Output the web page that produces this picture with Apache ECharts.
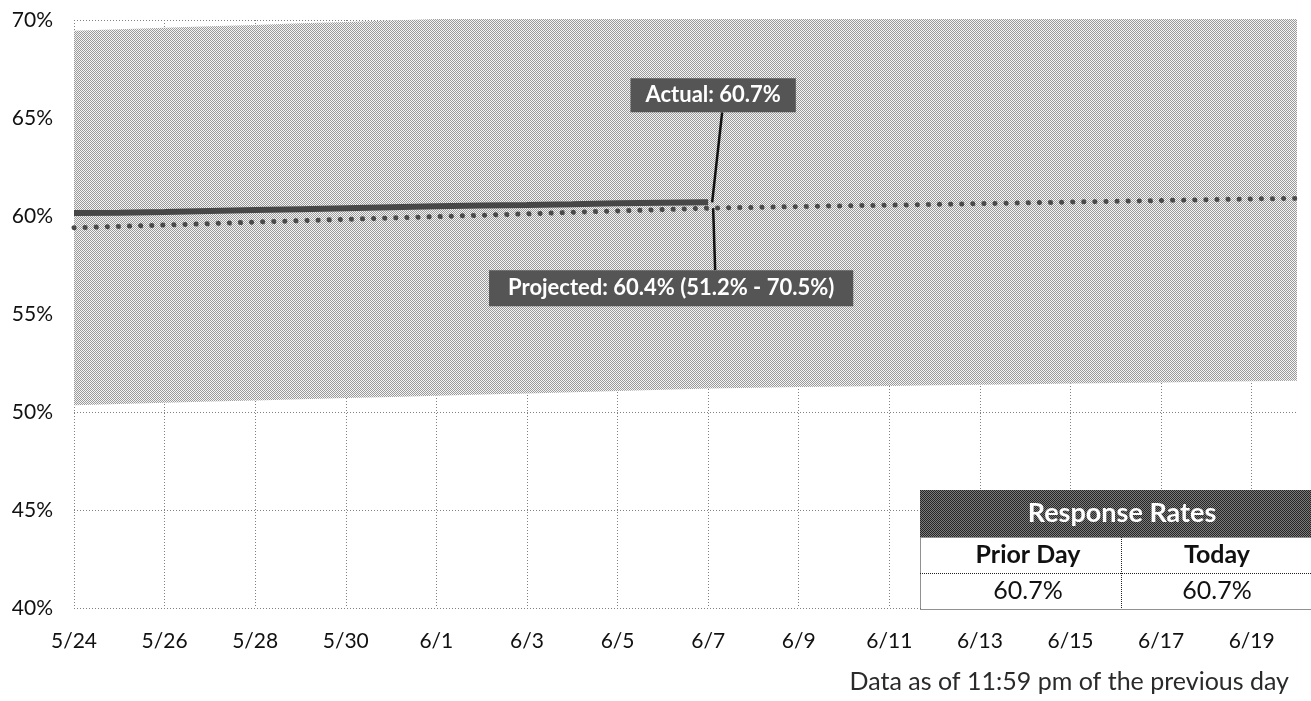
<!DOCTYPE html>
<html>
<head>
<meta charset="utf-8">
<script src="https://cdn.jsdelivr.net/npm/echarts@6/dist/echarts.min.js"></script>
<style>
html,body{margin:0;padding:0;background:#fff;}
#chart{width:1311px;height:701px;}
</style>
</head>
<body>
<div id="chart"></div>
<script>
const dates = ['5/24','5/25','5/26','5/27','5/28','5/29','5/30','5/31','6/1','6/2','6/3','6/4','6/5','6/6','6/7','6/8','6/9','6/10','6/11','6/12','6/13','6/14','6/15','6/16','6/17','6/18','6/19','6/20'];
const actual = [60.15,60.17,60.20,60.25,60.30,60.35,60.40,60.45,60.50,60.53,60.56,60.60,60.65,60.68,60.70];
const projected = [59.40,59.47,59.54,59.61,59.69,59.76,59.83,59.90,59.97,60.04,60.11,60.19,60.26,60.33,60.40,60.44,60.48,60.52,60.55,60.59,60.63,60.67,60.71,60.75,60.79,60.83,60.87,60.90];
const bandLower = [50.35,50.41,50.47,50.53,50.59,50.65,50.71,50.77,50.83,50.89,50.95,51.01,51.07,51.13,51.20,51.24,51.27,51.30,51.33,51.36,51.39,51.42,51.45,51.48,51.51,51.54,51.57,51.60];
const bandUpper = [69.45,69.53,69.60,69.68,69.75,69.83,69.90,69.98,70.05,70.13,70.20,70.28,70.35,70.43,70.50,70.55,70.60,70.65,70.70,70.75,70.80,70.85,70.90,70.95,71.00,71.05,71.10,71.15];
const tableTitle = 'Response Rates';
const tableHeads = ['Prior Day','Today'];
const tableVals = ['60.7%','60.7%'];
const footnote = 'Data as of 11:59 pm of the previous day';

function checker(dark, light){
  const c = document.createElement('canvas');
  c.width = 2; c.height = 2;
  const ctx = c.getContext('2d');
  ctx.fillStyle = light; ctx.fillRect(0,0,2,2);
  ctx.fillStyle = dark; ctx.fillRect(0,0,1,1); ctx.fillRect(1,1,1,1);
  return c;
}
const bandPattern = {image: checker('#9a9a9a','#f4f4f4'), repeat: 'repeat'};
const headPattern = {image: checker('#262626','#7a7a7a'), repeat: 'repeat'};

const calloutIdx = actual.length - 1;
const actualText = 'Actual: ' + actual[calloutIdx].toFixed(1) + '%';
const projText = 'Projected: ' + projected[calloutIdx].toFixed(1) + '% (' + bandLower[calloutIdx].toFixed(1) + '% - ' + bandUpper[calloutIdx].toFixed(1) + '%)';
const bandDiff = bandUpper.map((u,i)=> +(u - bandLower[i]).toFixed(2));

const FONT = 'Lato, "Noto Sans", sans-serif';
const chart = echarts.init(document.getElementById('chart'), null, {renderer:'canvas'});

// callout styling: l = [line start dx, line end dx, line end dy], b = [box dx, box dy]
const callouts = [
  {text: actualText, value: actual[calloutIdx], l: [4, 14, -90], b: [5, -107], pad: [6, 15]},
  {text: projText, value: projected[calloutIdx], l: [5, 7, 62], b: [-37, 80], pad: [7, 19]}
];

function renderCallout(params, api){
  const c = callouts[params.dataIndex];
  const p = api.coord([api.value(0), api.value(1)]);
  return {
    type: 'group',
    children: [
      {type: 'line', shape: {x1: p[0] + c.l[0], y1: p[1], x2: p[0] + c.l[1], y2: p[1] + c.l[2]},
       style: {stroke: '#111', lineWidth: 2.5}},
      {type: 'text', x: p[0] + c.b[0], y: p[1] + c.b[1],
       style: {text: c.text, fill: '#fff', font: 'bold 22px ' + FONT, align: 'center', verticalAlign: 'middle',
               backgroundColor: '#555555', padding: c.pad}}
    ]
  };
}

// table layout
const tX = 920, tW = 391, hH = 47, rH = 36, tY = 490;
const tableEls = [
  {type:'rect', shape:{x:tX, y:tY, width:tW, height:hH}, style:{fill: headPattern}},
  {type:'rect', shape:{x:tX+0.5, y:tY+hH+0.5, width:tW, height:rH*2}, style:{fill:'#fff', stroke:'#222', lineWidth:1, lineDash:[1,1]}},
  {type:'line', shape:{x1:tX, y1:tY+hH+rH+0.5, x2:tX+tW, y2:tY+hH+rH+0.5}, style:{stroke:'#222', lineWidth:1, lineDash:[1,1]}},
  {type:'line', shape:{x1:tX+201.5, y1:tY+hH, x2:tX+201.5, y2:tY+hH+rH*2}, style:{stroke:'#222', lineWidth:1, lineDash:[1,1]}},
  {type:'text', x:tX+202, y:tY+hH/2, style:{text:tableTitle, fill:'#fff', font:'bold 27px ' + FONT, align:'center', verticalAlign:'middle'}},
  {type:'text', x:tX+108, y:tY+hH+rH/2, style:{text:tableHeads[0], fill:'#111', font:'bold 25px ' + FONT, align:'center', verticalAlign:'middle'}},
  {type:'text', x:tX+297, y:tY+hH+rH/2, style:{text:tableHeads[1], fill:'#111', font:'bold 25px ' + FONT, align:'center', verticalAlign:'middle'}},
  {type:'text', x:tX+108, y:tY+hH+rH*1.5, style:{text:tableVals[0], fill:'#111', font:'25px ' + FONT, align:'center', verticalAlign:'middle'}},
  {type:'text', x:tX+297, y:tY+hH+rH*1.5, style:{text:tableVals[1], fill:'#111', font:'25px ' + FONT, align:'center', verticalAlign:'middle'}}
];

chart.setOption({
  animation: false,
  backgroundColor: '#fff',
  textStyle: {fontFamily: FONT},
  title: {
    text: footnote, right: 17, bottom: 2,
    textStyle: {fontSize: 25, fontWeight: 'normal', color: '#2a2a2a', fontFamily: FONT}
  },
  grid: {left: 74, right: 14, top: 20, bottom: 93},
  xAxis: {
    type: 'category', data: dates, boundaryGap: false,
    axisLine: {show: false}, axisTick: {show: false},
    axisLabel: {interval: 1, margin: 23, fontSize: 21, color: '#111', fontFamily: FONT},
    splitLine: {show: true, interval: 1, lineStyle: {color: '#808080', type: [1,2], width: 1}}
  },
  yAxis: {
    type: 'value', min: 40, max: 70, interval: 5,
    axisLine: {show: false}, axisTick: {show: false},
    axisLabel: {formatter: '{value}%', margin: 21, fontSize: 21, color: '#111', fontFamily: FONT},
    splitLine: {show: true, lineStyle: {color: '#808080', type: [1,2], width: 1}}
  },
  series: [
    {name: 'bandBase', type: 'line', stack: 'band', data: bandLower, symbol: 'none',
     lineStyle: {opacity: 0}, silent: true},
    {name: 'band', type: 'line', stack: 'band', data: bandDiff, symbol: 'none',
     lineStyle: {opacity: 0}, areaStyle: {color: bandPattern, opacity: 1}, silent: true},
    {name: 'Projected', type: 'line', data: projected, symbol: 'none',
     lineStyle: {color: '#4a4a4a', width: 5, type: [0.1, 11], cap: 'round'}, silent: true},
    {name: 'Actual', type: 'line', data: actual, symbol: 'none',
     lineStyle: {color: '#474747', width: 6}, silent: true},
    {name: 'callouts', type: 'custom', silent: true, z: 10, clip: false,
     data: callouts.map(c => [calloutIdx, c.value]),
     renderItem: renderCallout}
  ],
  graphic: {elements: tableEls.map(e => Object.assign({z: 100}, e))}
});
</script>
</body>
</html>
